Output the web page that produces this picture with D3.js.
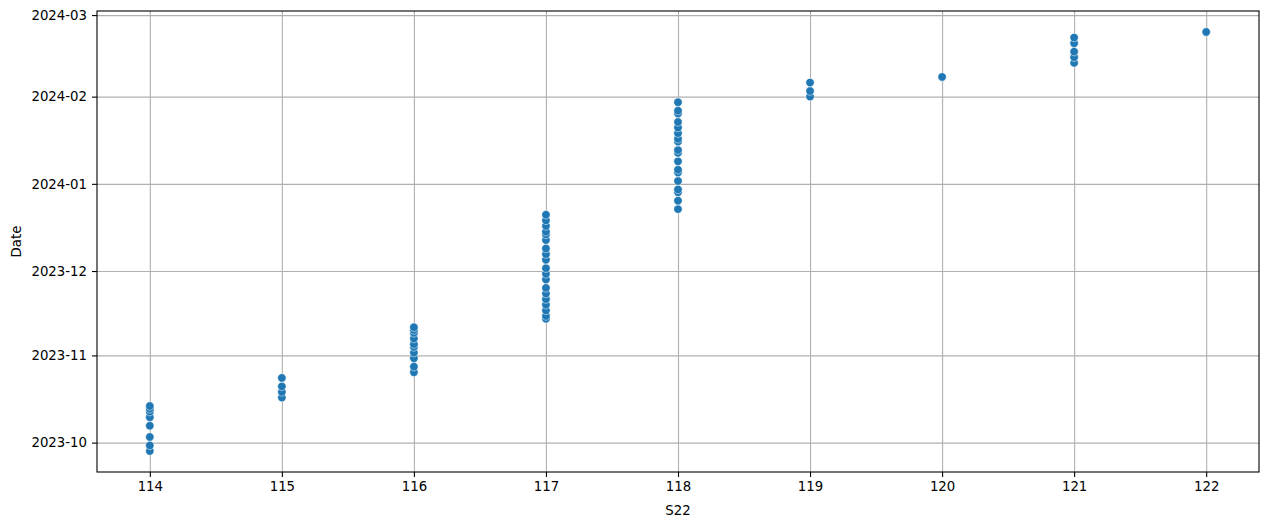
<!DOCTYPE html>
<html>
<head>
<meta charset="utf-8">
<script src="https://cdn.jsdelivr.net/npm/d3@7"></script>
<style>
  body { margin: 0; background: #fff; }
  svg { display: block; font-family: "DejaVu Sans", sans-serif; }
  .axis text { font-family: "DejaVu Sans", sans-serif; font-size: 13.3px; fill: #000; }
  .axis path, .axis line { stroke: #000; stroke-width: 1.1; }
  .grid line { stroke: #b0b0b0; stroke-width: 1.1; }
  .grid path { display: none; }
  .label { font-family: "DejaVu Sans", sans-serif; font-size: 13.3px; fill: #000; }
</style>
</head>
<body>
<div id="chart"></div>
<script>
// S22 value for each observation, and the matching date
var s22Values = [
  114, 114, 114, 114, 114, 114, 114, 114,
  115, 115, 115, 115,
  116, 116, 116, 116, 116, 116, 116, 116, 116, 116,
  117, 117, 117, 117, 117, 117, 117, 117, 117, 117,
  117, 117, 117, 117, 117, 117, 117, 117, 117,
  118, 118, 118, 118, 118, 118, 118, 118, 118,
  118, 118, 118, 118, 118, 118, 118, 118, 118,
  119, 119, 119,
  120,
  121, 121, 121, 121, 121,
  122
];

var dateValues = [
  "2023-09-28", "2023-09-30", "2023-10-03", "2023-10-07", "2023-10-10", "2023-10-12", "2023-10-13", "2023-10-14",
  "2023-10-17", "2023-10-19", "2023-10-21", "2023-10-24",
  "2023-10-26", "2023-10-28", "2023-10-31", "2023-11-02", "2023-11-04", "2023-11-05", "2023-11-07", "2023-11-09", "2023-11-10", "2023-11-11",
  "2023-11-14", "2023-11-15", "2023-11-17", "2023-11-19", "2023-11-21", "2023-11-23", "2023-11-25", "2023-11-28", "2023-11-30", "2023-12-02",
  "2023-12-05", "2023-12-07", "2023-12-09", "2023-12-12", "2023-12-14", "2023-12-15", "2023-12-17", "2023-12-19", "2023-12-21",
  "2023-12-23", "2023-12-26", "2023-12-29", "2023-12-30", "2024-01-02", "2024-01-05", "2024-01-06", "2024-01-09", "2024-01-12",
  "2024-01-13", "2024-01-16", "2024-01-17", "2024-01-19", "2024-01-21", "2024-01-23", "2024-01-26", "2024-01-27", "2024-01-30",
  "2024-02-01", "2024-02-03", "2024-02-06",
  "2024-02-08",
  "2024-02-13", "2024-02-15", "2024-02-17", "2024-02-20", "2024-02-22",
  "2024-02-24"
];

var xTicks = [114, 115, 116, 117, 118, 119, 120, 121, 122];

var labels = { x: "S22", y: "Date" };

var parseDate = d3.utcParse("%Y-%m-%d");
var data = s22Values.map(function(v, i) {
  return { s22: v, date: parseDate(dateValues[i]) };
});

var margin = { top: 11, right: 10, bottom: 54, left: 97 };
var width = 1269 - margin.left - margin.right;
var height = 526 - margin.top - margin.bottom;

var svg = d3.select("#chart").append("svg")
  .attr("width", 1269)
  .attr("height", 526)
  .append("g")
  .attr("transform", "translate(" + margin.left + "," + margin.top + ")");

// matplotlib style 5% padding on both axes
var xExt = d3.extent(data, function(d) { return d.s22; });
var xPad = (xExt[1] - xExt[0]) * 0.05;
var x = d3.scaleLinear()
  .domain([xExt[0] - xPad, xExt[1] + xPad])
  .range([0, width]);

var yExt = d3.extent(data, function(d) { return d.date; });
var yPad = (yExt[1] - yExt[0]) * 0.05;
var y = d3.scaleUtc()
  .domain([new Date(+yExt[0] - yPad), new Date(+yExt[1] + yPad)])
  .range([height, 0]);

var yTicks = y.ticks(d3.utcMonth.every(1));

// Grid
svg.append("g")
  .attr("class", "grid")
  .attr("transform", "translate(0," + height + ")")
  .call(d3.axisBottom(x).tickValues(xTicks).tickSize(-height).tickFormat(""));

svg.append("g")
  .attr("class", "grid")
  .call(d3.axisLeft(y).tickValues(yTicks).tickSize(-width).tickFormat(""));

// Points
svg.selectAll(".dot")
  .data(data)
  .enter().append("circle")
  .attr("class", "dot")
  .attr("r", 4.2)
  .attr("cx", function(d) { return x(d.s22); })
  .attr("cy", function(d) { return y(d.date); })
  .style("fill", "#1f77b4")
  .style("stroke", "#fff")
  .style("stroke-width", 0.5);

// Frame
svg.append("rect")
  .attr("width", width)
  .attr("height", height)
  .attr("fill", "none")
  .attr("stroke", "#000")
  .attr("stroke-width", 1.1);

// Axes
svg.append("g")
  .attr("class", "axis axis--x")
  .attr("transform", "translate(0," + height + ")")
  .call(d3.axisBottom(x).tickValues(xTicks).tickSize(5).tickPadding(5).tickFormat(d3.format("d")))
  .call(function(g) { g.select(".domain").remove(); });

svg.append("g")
  .attr("class", "axis axis--y")
  .call(d3.axisLeft(y).tickValues(yTicks).tickSize(5).tickPadding(5).tickFormat(d3.utcFormat("%Y-%m")))
  .call(function(g) { g.select(".domain").remove(); });

// Labels
svg.append("text")
  .attr("class", "label")
  .attr("text-anchor", "middle")
  .attr("transform", "translate(" + width / 2 + "," + (height + 43) + ")")
  .text(labels.x);

svg.append("text")
  .attr("class", "label")
  .attr("text-anchor", "middle")
  .attr("transform", "translate(-76," + height / 2 + ")rotate(-90)")
  .text(labels.y);
</script>
</body>
</html>
